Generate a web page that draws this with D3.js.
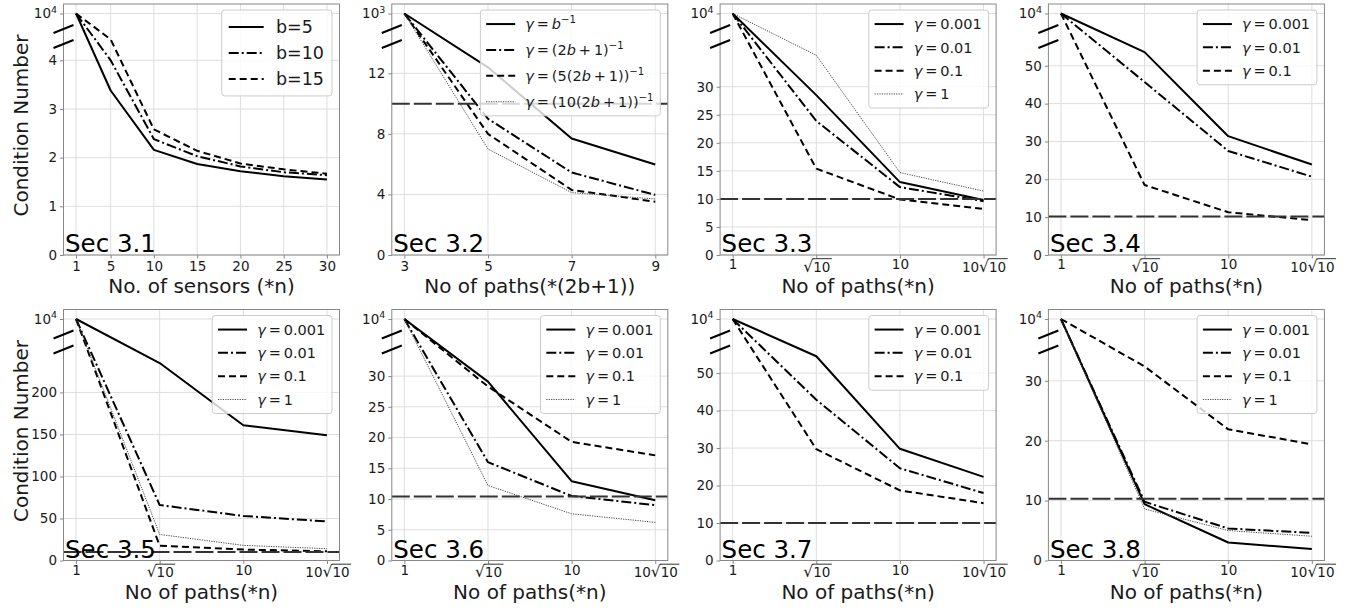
<!DOCTYPE html>
<html>
<head>
<meta charset="utf-8">
<title>Condition number</title>
<script src="https://cdn.jsdelivr.net/npm/d3@7"></script>
<style>
  body { margin: 0; background: #fff; }
  svg { display: block; font-family: "DejaVu Sans", sans-serif; }
</style>
</head>
<body>
<div id="chart"></div>
<script>
// ---------- data ----------
var sensorsX = [1, 5, 10, 15, 20, 25, 30];
var pathsBX = [3, 5, 7, 9];
var pathsX = [1, Math.sqrt(10), 10, 10 * Math.sqrt(10)];
var pathsTickLabels = ["1", "√10", "10", "10√10"];

// Sec 3.1
var sec31_b5  = [10000, 3.38, 2.16, 1.87, 1.72, 1.62, 1.55];
var sec31_b10 = [10000, 4.00, 2.38, 2.03, 1.82, 1.70, 1.64];
var sec31_b15 = [10000, 4.43, 2.58, 2.14, 1.88, 1.76, 1.67];
// Sec 3.2
var sec32_g1 = [1000, 12.4, 7.7, 5.98];
var sec32_g2 = [1000, 9.0, 5.45, 3.97];
var sec32_g3 = [1000, 8.0, 4.3, 3.52];
var sec32_g4 = [1000, 7.0, 4.12, 3.7];
// Sec 3.3
var sec33_g0001 = [10000, 28.5, 13.0, 9.8];
var sec33_g001  = [10000, 23.9, 12.1, 9.6];
var sec33_g01   = [10000, 15.4, 9.9, 8.2];
var sec33_g1    = [10000, 35.6, 14.7, 11.4];
// Sec 3.4
var sec34_g0001 = [10000, 53.6, 31.4, 23.9];
var sec34_g001  = [10000, 45.7, 27.5, 20.7];
var sec34_g01   = [10000, 18.5, 11.3, 9.2];
// Sec 3.5
var sec35_g0001 = [10000, 235, 161, 149];
var sec35_g001  = [10000, 66, 53, 46.5];
var sec35_g01   = [10000, 17.5, 13, 11];
var sec35_g1    = [10000, 31, 18, 14];
// Sec 3.6
var sec36_g0001 = [10000, 29.1, 12.9, 9.8];
var sec36_g001  = [10000, 16.0, 10.5, 9.0];
var sec36_g01   = [10000, 28.3, 19.3, 17.1];
var sec36_g1    = [10000, 12.2, 7.6, 6.2];
// Sec 3.7
var sec37_g0001 = [10000, 54.5, 29.8, 22.3];
var sec37_g001  = [10000, 42.9, 24.6, 18.0];
var sec37_g01   = [10000, 29.7, 18.7, 15.3];
// Sec 3.8
var sec38_g0001 = [10000, 9.4, 3.0, 1.9];
var sec38_g001  = [10000, 9.8, 5.35, 4.6];
var sec38_g01   = [10000, 32.4, 21.9, 19.4];
var sec38_g1    = [10000, 8.6, 5.0, 4.05];

// horizontal reference level per panel (none in Sec 3.1)
var refLevels = [null, 10, 10, 10.2, 10, 10.4, 10, 10.3];

// y ticks below the break
var yTicks31 = [0, 1, 2, 3, 4];
var yTicks32 = [0, 4, 8, 12];
var yTicks33 = [0, 5, 10, 15, 20, 25, 30];
var yTicks34 = [0, 10, 20, 30, 40, 50];
var yTicks35 = [0, 50, 100, 150, 200];
var yTicks36 = [0, 5, 10, 15, 20, 25, 30];
var yTicks37 = [0, 10, 20, 30, 40, 50];
var yTicks38 = [0, 10, 20, 30];

// legend labels (thin spaces mimic the math text spacing)
var legendB = ["b=5", "b=10", "b=15"];
var legendGamma = ["0.001", "0.01", "0.1", "1"];
var legendSec32 = [
  [["γ", "i"], ["\u2009=\u2009"], ["b", "i"], ["−1", "sup"]],
  [["γ", "i"], ["\u2009=\u2009(2"], ["b", "i"], ["\u2009+\u20091)"], ["−1", "sup"]],
  [["γ", "i"], ["\u2009=\u2009(5(2"], ["b", "i"], ["\u2009+\u20091))"], ["−1", "sup"]],
  [["γ", "i"], ["\u2009=\u2009(10(2"], ["b", "i"], ["\u2009+\u20091))"], ["−1", "sup"]]
];

function gammaLabels(n) {
  return legendGamma.slice(0, n).map(function(v) { return [["γ", "i"], ["\u2009=\u2009" + v]]; });
}

var panels = [
  {name: "Sec 3.1", x: sensorsX, log: false, xLabel: "No. of sensors (*n)", yTicks: yTicks31, topVal: 1e4, topExp: "4", brk: 4.54,
   series: [[sec31_b5, "solid"], [sec31_b10, "dashdot"], [sec31_b15, "dashed"]],
   labels: legendB.map(function(s) { return [[s]]; }), legendFont: 17.5, legendRow: 26},
  {name: "Sec 3.2", x: pathsBX, log: false, xLabel: "No of paths(*(2b+1))", yTicks: yTicks32, topVal: 1e3, topExp: "3", brk: 14.6,
   series: [[sec32_g1, "solid"], [sec32_g2, "dashdot"], [sec32_g3, "dashed"], [sec32_g4, "dotted"]],
   labels: legendSec32, legendFont: 14.5, legendRow: 25.9},
  {name: "Sec 3.3", x: pathsX, log: true, xLabel: "No of paths(*n)", yTicks: yTicks33, topVal: 1e4, topExp: "4", brk: 39.4,
   series: [[sec33_g0001, "solid"], [sec33_g001, "dashdot"], [sec33_g01, "dashed"], [sec33_g1, "dotted"]],
   labels: gammaLabels(4), legendFont: 14.5, legendRow: 23.3},
  {name: "Sec 3.4", x: pathsX, log: true, xLabel: "No of paths(*n)", yTicks: yTicks34, topVal: 1e4, topExp: "4", brk: 58.4,
   series: [[sec34_g0001, "solid"], [sec34_g001, "dashdot"], [sec34_g01, "dashed"]],
   labels: gammaLabels(3), legendFont: 14.5, legendRow: 23.3},
  {name: "Sec 3.5", x: pathsX, log: true, xLabel: "No of paths(*n)", yTicks: yTicks35, topVal: 1e4, topExp: "4", brk: 263,
   series: [[sec35_g0001, "solid"], [sec35_g001, "dashdot"], [sec35_g01, "dashed"], [sec35_g1, "dotted"]],
   labels: gammaLabels(4), legendFont: 14.5, legendRow: 23.3},
  {name: "Sec 3.6", x: pathsX, log: true, xLabel: "No of paths(*n)", yTicks: yTicks36, topVal: 1e4, topExp: "4", brk: 35.95,
   series: [[sec36_g0001, "solid"], [sec36_g001, "dashdot"], [sec36_g01, "dashed"], [sec36_g1, "dotted"]],
   labels: gammaLabels(4), legendFont: 14.5, legendRow: 23.3},
  {name: "Sec 3.7", x: pathsX, log: true, xLabel: "No of paths(*n)", yTicks: yTicks37, topVal: 1e4, topExp: "4", brk: 58.96,
   series: [[sec37_g0001, "solid"], [sec37_g001, "dashdot"], [sec37_g01, "dashed"]],
   labels: gammaLabels(3), legendFont: 14.5, legendRow: 23.3},
  {name: "Sec 3.8", x: pathsX, log: true, xLabel: "No of paths(*n)", yTicks: yTicks38, topVal: 1e4, topExp: "4", brk: 36.9,
   series: [[sec38_g0001, "solid"], [sec38_g001, "dashdot"], [sec38_g01, "dashed"], [sec38_g1, "dotted"]],
   labels: gammaLabels(4), legendFont: 14.5, legendRow: 23.3}
];

// ---------- layout / style ----------
var W = 1364, H = 613;
var colLeft0 = 63.5, colStep = 328.3, plotW = 276;
var rowTop = [4, 309.5], plotH = 251;
var tickFont = 13.5;
var frameColor = "#888", gridColor = "#dedede", textColor = "#1a1a1a";

var lineStyles = {
  solid:   {dash: null, width: 2, color: "#000"},
  dashdot: {dash: "10,3,2,3", width: 2, color: "#000"},
  dashed:  {dash: "7,4", width: 2, color: "#000"},
  dotted:  {dash: "1.2,1.2", width: 1, color: "#444"}
};

var svg = d3.select("#chart").append("svg")
  .attr("width", W).attr("height", H);

function richText(t, parts, fs) {
  var shift = 0;
  parts.forEach(function(pt) {
    var ts = t.append("tspan").text(pt[0]);
    if (pt[1] === "i") ts.attr("font-style", "italic");
    if (pt[1] === "sup") {
      ts.attr("font-size", fs * 0.7).attr("dy", -fs * 0.42);
      shift = fs * 0.42;
    } else if (shift) {
      ts.attr("dy", shift);
      shift = 0;
    }
  });
}

function styleLine(sel, st) {
  sel.attr("fill", "none")
    .attr("stroke", st.color)
    .attr("stroke-width", st.width)
    .attr("stroke-dasharray", st.dash)
    .attr("stroke-linejoin", "round");
}

function drawPanel(p, i) {
  var col = i % 4, row = Math.floor(i / 4);
  var left = colLeft0 + col * colStep, right = left + plotW;
  var top = rowTop[row], bottom = top + plotH;
  var g = svg.append("g");

  var x;
  if (p.log) {
    var lo = Math.log10(d3.min(p.x)), hi = Math.log10(d3.max(p.x)), pd = 0.05 * (hi - lo);
    x = d3.scaleLog().domain([Math.pow(10, lo - pd), Math.pow(10, hi + pd)]).range([left, right]);
  } else {
    var mn = d3.min(p.x), mx = d3.max(p.x), sp = 0.05 * (mx - mn);
    x = d3.scaleLinear().domain([mn - sp, mx + sp]).range([left, right]);
  }
  // broken axis: linear part up to p.brk, then squeezed up to the top value
  var y = d3.scaleLinear()
    .domain([0, p.brk, p.topVal])
    .range([bottom, top + 30, top + 9.5]);

  var yVals = p.yTicks.concat([p.topVal]);

  // grid
  g.append("g").selectAll("line").data(p.x).enter().append("line")
    .attr("x1", function(d) { return x(d); }).attr("x2", function(d) { return x(d); })
    .attr("y1", top).attr("y2", bottom)
    .attr("stroke", gridColor).attr("stroke-width", 1);
  g.append("g").selectAll("line").data(yVals).enter().append("line")
    .attr("x1", left).attr("x2", right)
    .attr("y1", function(d) { return y(d); }).attr("y2", function(d) { return y(d); })
    .attr("stroke", gridColor).attr("stroke-width", 1);

  // series
  var line = d3.line()
    .x(function(d, j) { return x(p.x[j]); })
    .y(function(d) { return y(d); });
  p.series.forEach(function(s) {
    g.append("path").datum(s[0]).attr("d", line).call(styleLine, lineStyles[s[1]]);
  });

  // reference level
  var ref = refLevels[i];
  if (ref !== null) {
    g.append("line")
      .attr("x1", left).attr("x2", right)
      .attr("y1", y(ref)).attr("y2", y(ref))
      .attr("stroke", "#333").attr("stroke-width", 2)
      .attr("stroke-dasharray", "18,4");
  }

  // frame
  g.append("rect").attr("x", left).attr("y", top)
    .attr("width", plotW).attr("height", plotH)
    .attr("fill", "none").attr("stroke", frameColor).attr("stroke-width", 1);

  // x axis
  var xAxis = d3.axisBottom(x).tickValues(p.x).tickSize(3.5).tickSizeOuter(0)
    .tickFormat(function(d) { return p.log ? "" : d; });
  var xg = g.append("g").attr("transform", "translate(0," + bottom + ")").call(xAxis);
  xg.select(".domain").remove();
  xg.selectAll(".tick line").attr("stroke", frameColor);
  xg.selectAll(".tick text").attr("font-size", tickFont).attr("font-family", "DejaVu Sans")
    .attr("fill", textColor);
  if (p.log) {
    xg.selectAll(".tick").each(function(d, j) {
      sqrtLabel(d3.select(this), pathsTickLabels[j], 13.5);
    });
  }

  // y axis
  var yAxis = d3.axisLeft(y).tickValues(yVals).tickSize(3.5).tickSizeOuter(0)
    .tickFormat(function(d) { return d === p.topVal ? "" : d; });
  var yg = g.append("g").attr("transform", "translate(" + left + ",0)").call(yAxis);
  yg.select(".domain").remove();
  yg.selectAll(".tick line").attr("stroke", frameColor);
  yg.selectAll(".tick text").attr("font-size", tickFont).attr("font-family", "DejaVu Sans")
    .attr("fill", textColor);
  yg.selectAll(".tick").filter(function(d) { return d === p.topVal; }).select("text")
    .each(function() {
      richText(d3.select(this), [["10"], [p.topExp, "sup"]], tickFont);
    });

  // break marks on the left spine
  [top + 25, top + 40].forEach(function(cy) {
    g.append("line")
      .attr("x1", left - 10).attr("y1", cy + 4)
      .attr("x2", left + 10).attr("y2", cy - 4)
      .attr("stroke", "#000").attr("stroke-width", 2);
  });

  // section tag
  g.append("text").attr("x", left + 1.5).attr("y", bottom - 3)
    .attr("font-size", 24.5).attr("fill", "#000").text(p.name);

  // axis labels
  g.append("text").attr("x", (left + right) / 2).attr("y", bottom + 38)
    .attr("text-anchor", "middle").attr("font-size", 20).attr("fill", textColor)
    .text(p.xLabel);
  if (col === 0) {
    g.append("text")
      .attr("transform", "translate(" + (left - 36) + "," + ((top + bottom) / 2 - 4) + ") rotate(-90)")
      .attr("text-anchor", "middle").attr("font-size", 20).attr("fill", textColor)
      .text("Condition Number");
  }

  drawLegend(g, p, right, top);
}

function sqrtLabel(tick, label, fs) {
  tick.select("text").remove();
  var parts = label.split("√");
  var t = tick.append("text").attr("text-anchor", "middle")
    .attr("font-size", fs).attr("font-family", "DejaVu Sans").attr("fill", textColor);
  if (parts.length === 1) {
    t.attr("y", 14).text(label);
    return;
  }
  var base = 16.5;
  t.attr("y", base);
  if (parts[0]) t.append("tspan").text(parts[0]);
  t.append("tspan").attr("font-size", fs * 1.15).text("√");
  t.append("tspan").text(parts[1]);
  var node = t.node();
  var k0 = parts[0].length + 1;
  var x0 = node.getStartPositionOfChar(k0).x;
  var x1 = node.getEndPositionOfChar(node.getNumberOfChars() - 1).x;
  tick.append("line")
    .attr("x1", x0 - 0.8).attr("x2", x1 + 1.5)
    .attr("y1", base - fs * 0.95).attr("y2", base - fs * 0.95)
    .attr("stroke", textColor).attr("stroke-width", 0.9);
}

function drawLegend(g, p, right, top) {
  var fs = p.legendFont, rowH = p.legendRow;
  var pad = fs * 0.4, sampleLen = fs * 2, gap = fs * 0.7, firstRow = fs * 0.97;
  var lg = g.append("g");
  var box = lg.append("rect");
  var maxW = 0;
  p.series.forEach(function(s, k) {
    var cy = firstRow + k * rowH;
    lg.append("line")
      .attr("x1", pad).attr("x2", pad + sampleLen)
      .attr("y1", cy).attr("y2", cy)
      .call(styleLine, lineStyles[s[1]]);
    var t = lg.append("text")
      .attr("x", pad + sampleLen + gap).attr("y", cy + fs * 0.36)
      .attr("font-size", fs).attr("fill", textColor);
    richText(t, p.labels[k], fs);
    maxW = Math.max(maxW, t.node().getComputedTextLength());
  });
  var bw = pad + sampleLen + gap + maxW + pad + 1;
  var bh = firstRow * 2 + (p.series.length - 1) * rowH;
  box.attr("width", bw).attr("height", bh).attr("rx", 3)
    .attr("fill", "#fff").attr("fill-opacity", 0.8)
    .attr("stroke", "#cccccc").attr("stroke-width", 1);
  lg.attr("transform", "translate(" + (right - 7.5 - bw) + "," + (top + 6) + ")");
}

panels.forEach(drawPanel);
</script>
</body>
</html>
